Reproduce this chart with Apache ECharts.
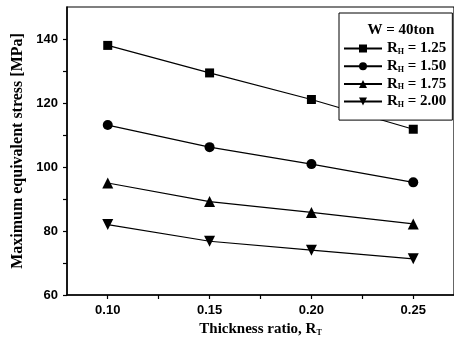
<!DOCTYPE html>
<html>
<head>
<meta charset="utf-8">
<script src="https://cdn.jsdelivr.net/npm/echarts@6/dist/echarts.min.js"></script>
<style>
  html, body { margin: 0; padding: 0; background: #fff; }
  #chart { width: 454px; height: 347px; }
</style>
</head>
<body>
<div id="chart"></div>
<script>
// thickness ratio R_T
const thickness = [0.10, 0.15, 0.20, 0.25];
// max equivalent stress [MPa] per R_H
const rh125 = [138.0, 129.4, 121.1, 111.8];
const rh150 = [113.1, 106.2, 100.9, 95.2];
const rh175 = [95.0, 89.2, 85.8, 82.2];
const rh200 = [82.0, 76.8, 74.0, 71.3];
const seriesNames = ["R_H = 1.25", "R_H = 1.50", "R_H = 1.75", "R_H = 2.00"];
const yTicks = [60, 70, 80, 90, 100, 110, 120, 130, 140];
const yLabels = [60, 80, 100, 120, 140];
const xTicks = [0.10, 0.125, 0.15, 0.175, 0.20, 0.225, 0.25];
const xLabels = [0.10, 0.15, 0.20, 0.25];

const serif = "Liberation Serif";
const sans = "Liberation Sans";

const chart = echarts.init(document.getElementById("chart"));

const pairs = (ys) => thickness.map((x, i) => [x, ys[i]]);

const mkSeries = (name, ys, symbol, size, rotate) => ({
  name,
  type: "line",
  data: pairs(ys),
  symbol,
  symbolSize: size,
  symbolRotate: rotate || 0,
  lineStyle: { color: "#000", width: 1.2 },
  itemStyle: { color: "#000" },
  z: 3
});

// rich styles for subscript text (R_H, R_T)
const subRich = {
  a: { fontFamily: serif, fontWeight: "bold", fontSize: 15, lineHeight: 16, color: "#000" },
  s: { fontFamily: serif, fontWeight: "bold", fontSize: 8, lineHeight: 16, color: "#000", padding: [7, 0, 0, 0] }
};

const option = {
  animation: false,
  backgroundColor: "#fff",
  grid: {
    left: 67, top: 7, width: 389, height: 288,
    show: true, borderColor: "#000", borderWidth: 1.2
  },
  title: {
    text: "W = 40ton",
    left: 396, top: 18, textAlign: "center",
    textStyle: { fontFamily: serif, fontWeight: "bold", fontSize: 15, color: "#000" }
  },
  legend: {
    orient: "vertical",
    left: 339, top: 13,
    padding: [28, 6, 11, 4],
    itemGap: 2.7,
    itemWidth: 38,
    itemHeight: 10,
    borderColor: "#000",
    borderWidth: 1,
    backgroundColor: "#fff",
    data: seriesNames,
    formatter: (name) => {
      const v = name.split("= ")[1];
      return "{a|R}{s|H}{a| = " + v + "}";
    },
    textStyle: { color: "#000", rich: subRich }
  },
  xAxis: {
    type: "value",
    min: 0.08, max: 0.27,
    name: "{a|Thickness ratio, R}{s|T}",
    nameLocation: "middle",
    nameGap: 26,
    nameTextStyle: { rich: subRich },
    axisLine: { lineStyle: { color: "#000", width: 1.5 } },
    axisTick: { show: true, inside: false, length: 4, customValues: xTicks, lineStyle: { color: "#000", width: 1.2 } },
    axisLabel: {
      customValues: xLabels,
      margin: 9,
      formatter: (v) => v.toFixed(2),
      fontFamily: sans, fontWeight: "bold", fontSize: 13, color: "#000"
    },
    splitLine: { show: false }
  },
  yAxis: {
    type: "value",
    min: 60, max: 150,
    name: "Maximum equivalent stress [MPa]",
    nameLocation: "middle",
    nameGap: 37,
    nameTextStyle: { fontFamily: serif, fontWeight: "bold", fontSize: 16, color: "#000" },
    axisLine: { show: true, lineStyle: { color: "#000", width: 1.5 } },
    axisTick: { show: true, inside: false, length: 4, customValues: yTicks, lineStyle: { color: "#000", width: 1.2 } },
    axisLabel: {
      customValues: yLabels,
      margin: 9,
      fontFamily: sans, fontWeight: "bold", fontSize: 13, color: "#000"
    },
    splitLine: { show: false }
  },
  series: [
    mkSeries(seriesNames[0], rh125, "rect", 9),
    mkSeries(seriesNames[1], rh150, "circle", 10),
    mkSeries(seriesNames[2], rh175, "triangle", 11),
    mkSeries(seriesNames[3], rh200, "triangle", 11, 180)
  ]
};

chart.setOption(option);
</script>
</body>
</html>
